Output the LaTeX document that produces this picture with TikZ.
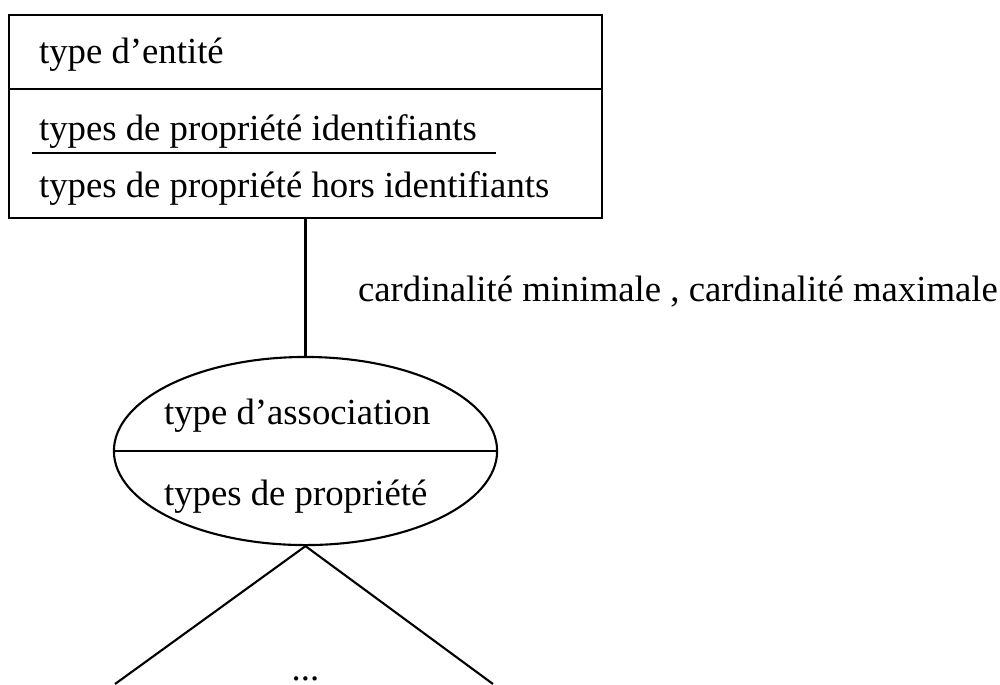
\documentclass[tikz,border=0pt]{standalone}
\usepackage{fontspec}
\setmainfont{Liberation Serif}
\usetikzlibrary{shapes.geometric}

\begin{document}
\begin{tikzpicture}[x=0.01cm,y=-0.01cm,line width=0.6pt,
  every node/.style={font=\fontsize{10.45}{12}\selectfont},
  txt/.style={anchor=base west,inner sep=0pt}]
\useasboundingbox (0,0) rectangle (1000,684);
% entity box
\node[draw,rectangle,inner sep=0pt,minimum width=5.92cm,minimum height=2.03cm] (ent) at (305.5,116.5) {};
\draw (ent.west |- 0,89) -- (ent.east |- 0,89);
\node[txt] (entname) at (38,63) {type d’entité};
\node[txt] (idprops) at (38,140) {types de propriété identifiants};
\draw (32,153) -- (496,153);
\node[txt] (otherprops) at (38,197) {types de propriété hors identifiants};
% association
\node[draw,ellipse,inner sep=0pt,minimum width=3.83cm,minimum height=1.88cm] (assoc) at (305.5,451) {};
\draw (assoc.west) -- (assoc.east);
\node[txt] (assocname) at (163,424) {type d’association};
\node[txt] (assocprops) at (163,505) {types de propriété};
% links
\draw (ent.south) -- (assoc.north);
\node[txt] (card) at (357,301) {cardinalité minimale , cardinalité maximale};
\coordinate (legA) at (115,684);
\coordinate (legB) at (493,684);
\draw (legA) -- (assoc.south) -- (legB);
\node[anchor=base,inner sep=0pt] (more) at (305.5,680) {...};
\end{tikzpicture}
\end{document}
